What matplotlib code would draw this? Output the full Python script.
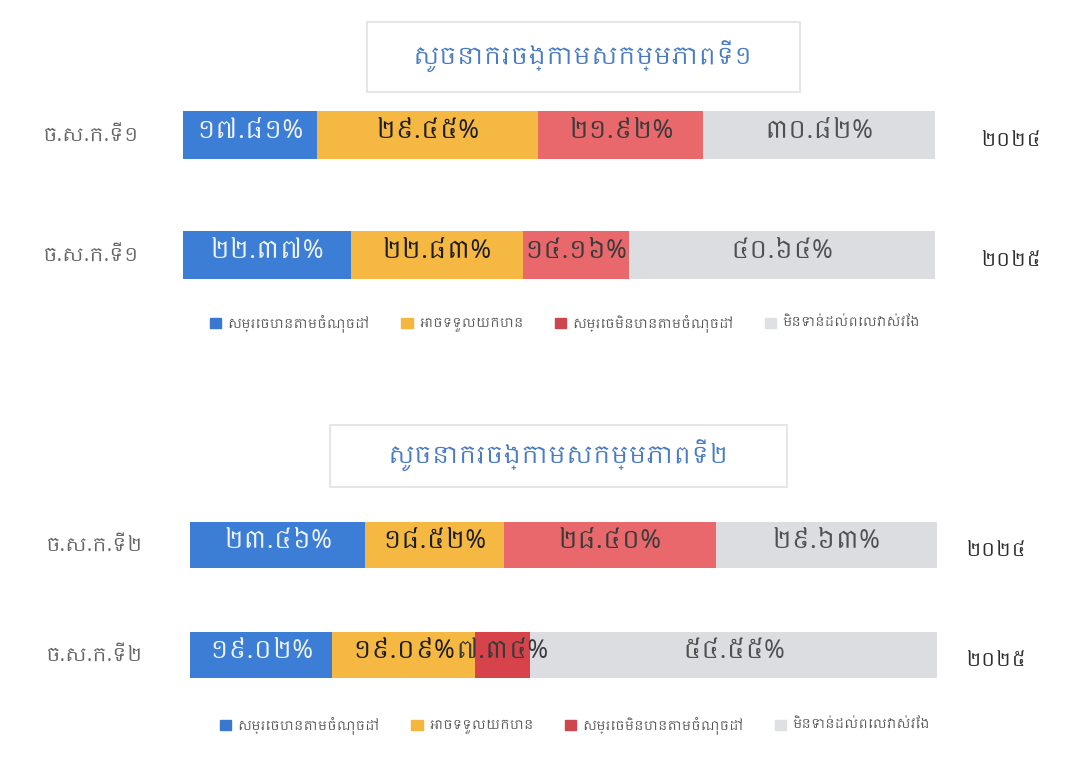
import matplotlib
matplotlib.use("Agg")
import matplotlib.pyplot as plt
from matplotlib import font_manager
from matplotlib.patches import Rectangle, Patch

# look for any font that can show Khmer, fall back to DejaVu
khmer = [f.name for f in font_manager.fontManager.ttflist if "khmer" in f.name.lower()]
plt.rcParams['font.family'] = list(dict.fromkeys(khmer)) + ['DejaVu Sans']

titles = ["សូចនាករចង្កោមសកម្មភាពទី១", "សូចនាករចង្កោមសកម្មភាពទី២"]
row_labels = ["ច.ស.ក.ទី១", "ច.ស.ក.ទី២"]
years = ["២០២៤", "២០២៥"]
categories = ["សម្រេចបានតាមចំណុចដៅ", "អាចទទួលយកបាន", "សម្រេចមិនបានតាមចំណុចដៅ", "មិនទាន់ដល់ពេលវាស់វែង"]

# values per chart: rows = 2024, 2025 ; cols = categories
chart1_2024 = [17.81, 29.45, 21.92, 30.82]
chart1_2025 = [22.37, 22.83, 14.16, 40.64]
chart2_2024 = [23.46, 18.52, 28.40, 29.63]
chart2_2025 = [19.02, 19.09, 7.34, 54.55]

colors = ["#3c7dd6", "#f5b843", "#e8686c", "#dcdde1"]
legend_colors = ["#3a78d0", "#f4b63f", "#cc474e", "#dfe0e3"]
text_colors = ["#eef3fb", "#1e1e1e", "#3a3a3a", "#505050"]
text_weights = ["normal", "bold", "normal", "normal"]

KH = "០១២៣៤៥៦៧៨៩"
def khnum(s):
    return "".join(KH[int(c)] if c.isdigit() else c for c in s)

fig = plt.figure(figsize=(10.69, 7.75), dpi=100)
fig.patch.set_facecolor("white")

def draw(rect, rows, label, label_x, year_x, bar_h, red2=None):
    ax = fig.add_axes(rect)
    for i, vals in enumerate(rows):
        left = 0
        for j, v in enumerate(vals):
            c = colors[j]
            if red2 and i == 1 and j == 2:
                c = red2
            ax.barh(i, v, left=left, height=bar_h, color=c)
            ax.text(left + v / 2, i - 0.03, khnum(f"{v:.2f}") + "%", ha="center", va="center",
                    fontsize=18, color=text_colors[j], fontweight=text_weights[j])
            left += v
        ax.text(label_x, i, label, transform=ax.get_yaxis_transform(), ha="left", va="center",
                fontsize=14, color="#666666")
        ax.text(year_x, i + 0.05, years[i], transform=ax.get_yaxis_transform(), ha="left", va="center",
                fontsize=14, color="#2e2e2e", fontweight="bold")
    ax.set_xlim(0, 100)
    ax.set_ylim(1.5, -0.5)
    ax.axis("off")
    return ax

draw([183/1069, 1 - 315/775, 752/1069, 240/775], [chart1_2024, chart1_2025],
     row_labels[0], -0.1875, 1.06, 0.4)
draw([190/1069, 1 - 710/775, 747/1069, 220/775], [chart2_2024, chart2_2025],
     row_labels[1], -0.194, 1.0375, 0.42, red2="#d6434b")

# title boxes
for (x, y, w, h), t, (tx, ty) in [((367, 22, 433, 70), titles[0], (583, 57)),
                                   ((330, 425, 457, 62), titles[1], (558, 456))]:
    fig.patches.append(Rectangle((x/1069, 1 - (y + h)/775), w/1069, h/775, transform=fig.transFigure,
                                 facecolor="white", edgecolor="#e2e2e2", lw=1.2))
    fig.text(tx/1069, 1 - ty/775, t, ha="center", va="center", fontsize=17, color="#4a7cc4")

handles = [Patch(color=c) for c in legend_colors]
for cx, cy in [(565/1069, 1 - 323/775), (575/1069, 1 - 725/775)]:
    fig.legend(handles, categories, loc="center", bbox_to_anchor=(cx, cy), ncol=4, frameon=False,
               fontsize=9, handlelength=0.9, handleheight=0.9, columnspacing=2.5, handletextpad=0.5,
               labelcolor="#555555")

plt.savefig("out.png", dpi=100, facecolor="white")
